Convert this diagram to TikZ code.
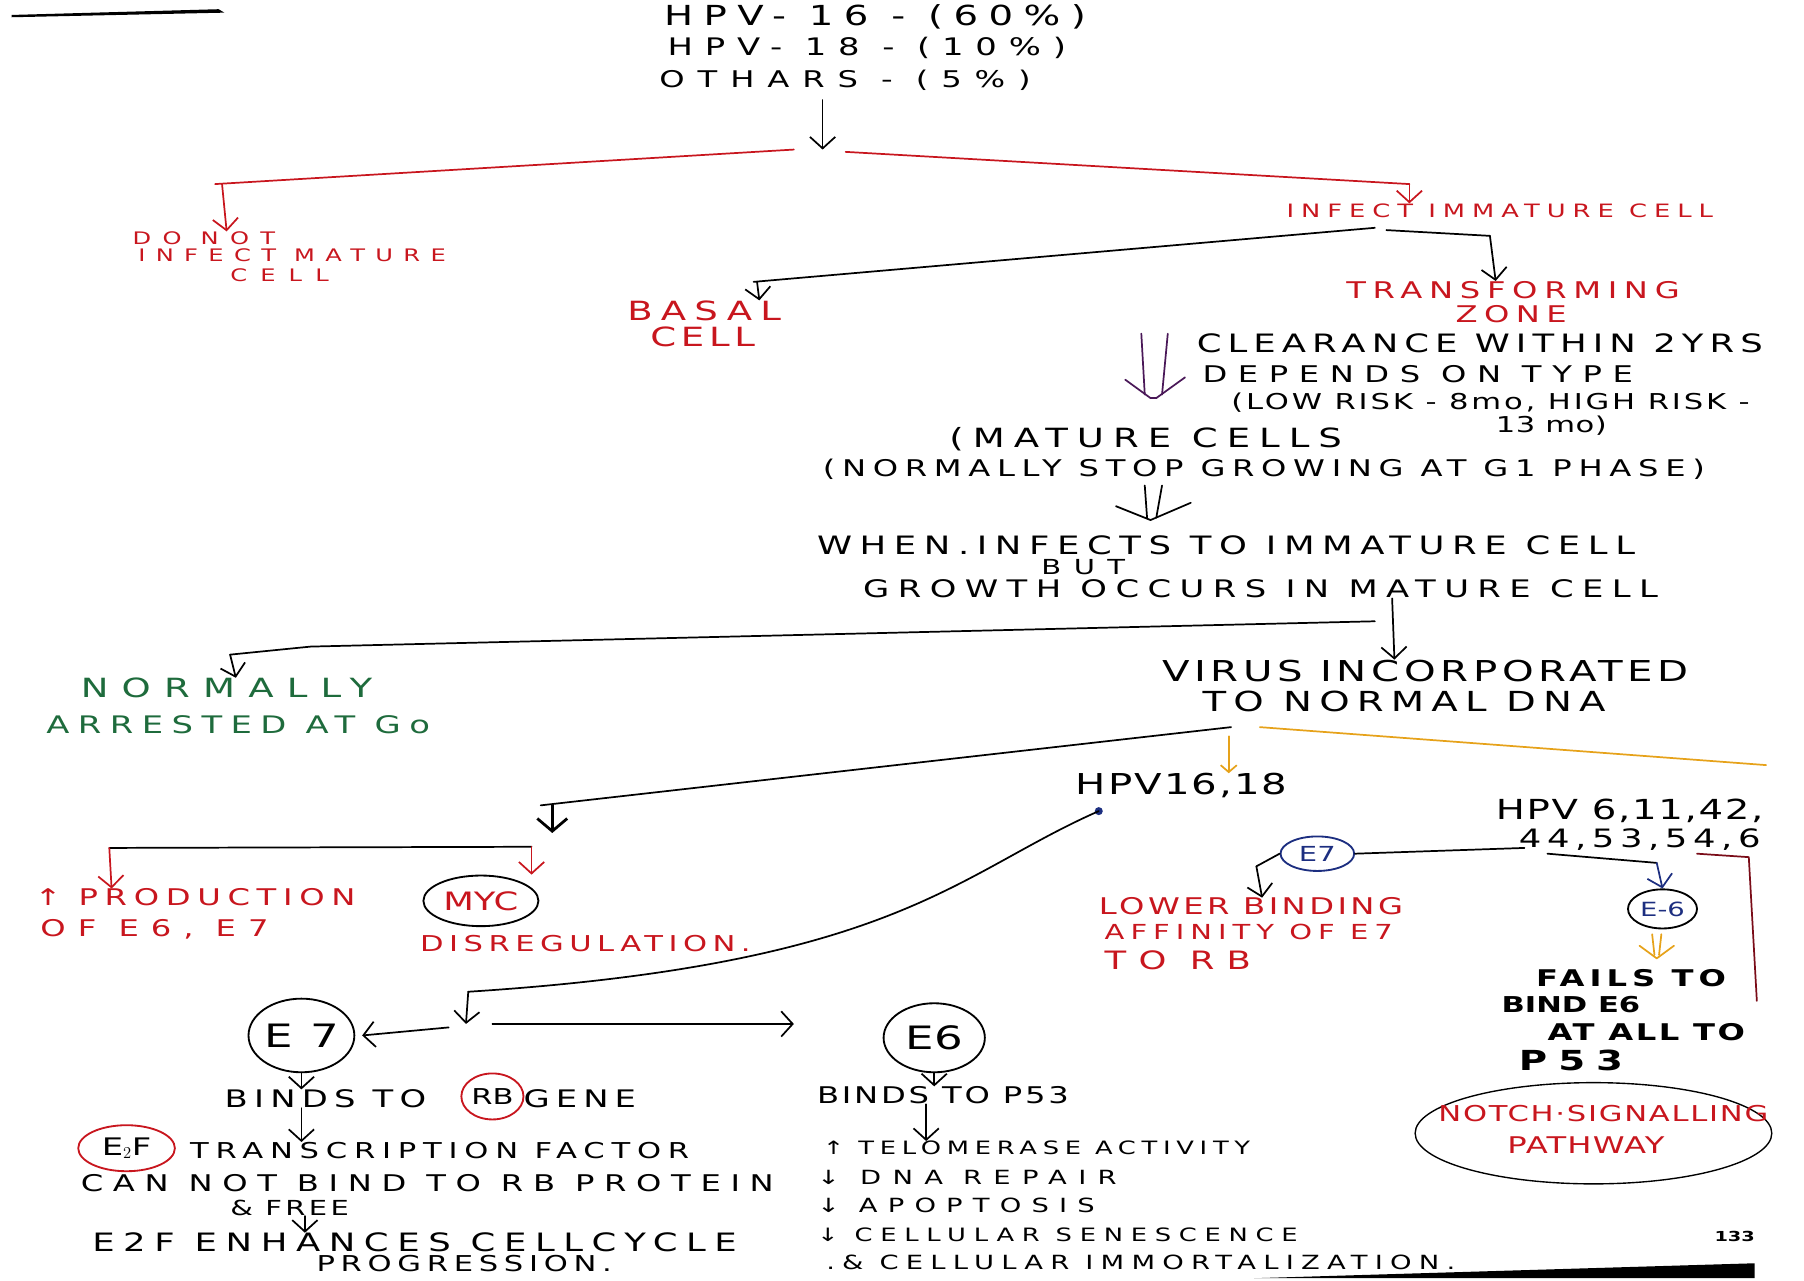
\documentclass[tikz,border=0pt]{standalone}
\usepackage{fontspec}
\setmainfont{DejaVu Sans}
\usetikzlibrary{arrows.meta,shapes.geometric,calc}
\newcommand\hw[2]{\fontsize{#1}{#1}\selectfont\addfontfeature{FakeStretch=1.4,LetterSpace=#2}}
\definecolor{hred}{HTML}{C8161E}
\definecolor{hgreen}{HTML}{1E6B3C}
\definecolor{hyel}{HTML}{E6A21A}
\definecolor{hblue}{HTML}{1C2E80}
\definecolor{hpurp}{HTML}{4A1858}
\definecolor{hdred}{HTML}{7A0C18}
\begin{document}
\begin{tikzpicture}[x=1pt,y=-1pt,
  tx/.style={inner sep=0pt, anchor=west},
  rd/.style={tx,text=hred},
  gr/.style={tx,text=hgreen},
  bd/.style={tx},
  ln/.style={line width=1.5pt, line cap=round, line join=round},
  ar/.style={ln,-{Straight Barb[length=10pt,width=22pt]}},
  circ/.style={ellipse,draw,line width=1.6pt,inner sep=0pt}]
\useasboundingbox (0,0) rectangle (1568,1113);
% scan artefacts
\fill (10,13) -- (190,8) -- (195,11) -- (10,15) -- cycle;
\fill (1090,1111) -- (1525,1098) -- (1525,1111) -- cycle;
% title
\node[tx,font=\hw{24}{38}] (t1) at (577,15) {HPV- 16 - (60\%)};
\node[tx,font=\hw{21}{49}] (t2) at (580,42) {HPV- 18 - (10\%)};
\node[tx,font=\hw{20}{56}] (t3) at (573,70) {OTHARS - (5\%)};
\coordinate (a0) at (715,87);
\coordinate (a1) at (715,130);
\draw[ar] (a0) -- (a1);
% first branch (red)
\node[rd,font=\hw{15}{66}] (dn1) at (115,207) {DO NOT};
\node[rd,font=\hw{15}{60}] (dn2) at (120,222) {INFECT MATURE};
\node[rd,font=\hw{15}{76}] (dn3) at (200,239) {CELL};
\node[rd,font=\hw{16}{38}] (im) at (1118,183) {INFECT IMMATURE CELL};
\coordinate (rl0) at (690,130);
\coordinate (rl) at (187,160);
\coordinate (rr0) at (735,132);
\coordinate (rr) at (1225,160);
\draw[ln,hred] (rl0) -- (rl);
\draw[ar,hred] (rl -| 193,0) -- (dn1.north -| 197,0);
\draw[ln,hred] (rr0) -- (rr);
\draw[ar,hred] (rr) -- (im.north -| rr);
% second branch
\node[rd,font=\hw{23}{31}] (bs1) at (545,270) {BASAL};
\node[rd,font=\hw{23}{18}] (bs2) at (565,293) {CELL};
\node[rd,font=\hw{20}{29}] (tz1) at (1170,252) {TRANSFORMING};
\node[rd,font=\hw{20}{28}] (tz2) at (1265,273) {ZONE};
\coordinate (ib0) at (1195,198);
\coordinate (ib) at (655,245);
\coordinate (it0) at (1205,200);
\coordinate (it) at (1295,205);
\draw[ln] (ib0) -- (ib);
\draw[ar] (ib -| 658,0) -- (bs1.north -| 660,0);
\draw[ln] (it0) -- (it);
\draw[ar] (it) -- (tz1.north -| 1300,0);
% clearance
\node[tx,font=\hw{22}{24}] (cl1) at (1040,298) {CLEARANCE WITHIN 2YRS};
\node[tx,font=\hw{20}{46}] (cl2) at (1045,325) {DEPENDS ON TYPE};
\node[tx,font=\hw{19}{13}] (cl3) at (1070,350) {(LOW RISK - 8mo, HIGH RISK -};
\node[tx,font=\hw{19}{2}] (cl4) at (1300,370) {13 mo)};
\draw[ln,hpurp] (992,290) -- (995,343) (1015,290) -- (1010,343);
\draw[ln,hpurp] (978,330) -- (1000,346) -- (1005,346) -- (1030,328);
% mature cells
\node[tx,font=\hw{23}{34}] (mc1) at (825,382) {(MATURE CELLS};
\node[tx,font=\hw{20}{29}] (mc2) at (715,408) {(NORMALLY STOP GROWING AT G1 PHASE)};
\draw[ln] (995,422) -- (997,450) (1010,422) -- (1005,450);
\draw[ln] (970,440) -- (1000,452) -- (1035,437);
\node[tx,font=\hw{22}{30}] (w1) at (710,474) {WHEN.INFECTS TO IMMATURE CELL};
\node[tx,font=\hw{18}{60}] (w2) at (905,493) {BUT};
\node[tx,font=\hw{21}{35}] (w3) at (750,512) {GROWTH OCCURS IN MATURE CELL};
% third branch
\node[gr,font=\hw{23}{50}] (n1) at (70,598) {NORMALLY};
\node[gr,font=\hw{21}{35}] (n2) at (40,630) {ARRESTED AT Go};
\node[tx,font=\hw{25}{16}] (v1) at (1010,583) {VIRUS INCORPORATED};
\node[tx,font=\hw{24}{26}] (v2) at (1045,610) {TO NORMAL DNA};
\coordinate (g0) at (1195,540);
\coordinate (g1) at (270,562);
\coordinate (g2) at (200,569);
\draw[ln] (g0) -- (g1) -- (g2);
\draw[ar] (g2) -- (n1.north -| 205,0);
\draw[ar] (w3.south -| 1210,0) -- (v1.north -| 1212,0);
% HPV types
\node[tx,font=\hw{25}{7}] (h16) at (935,683) {HPV16,18};
\node[tx,font=\hw{24}{6}] (h6a) at (1300,705) {HPV 6,11,42,};
\node[tx,font=\hw{22}{22}] (h6b) at (1320,730) {44,53,54,6};
\coordinate (d0) at (1070,632);
\coordinate (d1) at (470,700);
\coordinate (d2) at (1095,632);
\coordinate (d3) at (1535,665);
\draw[ln] (d0) -- (d1);
\draw[ln,hyel] (d2) -- (d3);
\draw[ln,hyel,-{Straight Barb[length=6pt,width=14pt]}] (1068,640) -- (h16.north -| 1068,0);
\coordinate (bj) at (480,724);
\draw[line width=2.4pt,line cap=round,-{Straight Barb[length=11pt,width=26pt]}] (d1 -| bj) -- (bj);
% MYC / production (red)
\node[rd,font=\hw{20}{29}] (p1) at (30,780) {↑ PRODUCTION};
\node[rd,font=\hw{20}{52}] (p2) at (35,808) {OF E6, E7};
\node[circ,text=hred,minimum width=100,minimum height=44,font=\hw{22}{0}] (myc) at (418,783) {MYC};
\node[rd,font=\hw{19}{25}] (dis) at (365,820) {DISREGULATION.};
\coordinate (pj) at (462,736);
\coordinate (pl) at (95,737);
\draw[ln] (pj) -- (pl);
\draw[ar,hred] (pl) -- (p1.north -| 97,0);
\draw[ar,hred] (pj) -- (myc.north -| 462,0);
% low risk branch
\node[circ,draw=hblue,text=hblue,minimum width=64,minimum height=30,font=\hw{18}{0}] (e7s) at (1145,742) {E7};
\node[circ,text=hblue,minimum width=60,minimum height=34,font=\hw{17}{0}] (e6s) at (1445,790) {E-6};
\node[rd,font=\hw{20}{15}] (lb1) at (955,788) {LOWER BINDING};
\node[rd,font=\hw{18}{29}] (lb2) at (960,810) {AFFINITY OF E7};
\node[rd,font=\hw{22}{48}] (lb3) at (960,835) {TO RB};
\coordinate (l0) at (1325,737);
\coordinate (l1) at (1092,753);
\draw[ln] (l0) -- (e7s.east) (e7s.west) -- (l1);
\draw[ar] (l1) -- (lb1.north -| 1097,0);
\coordinate (r0) at (1345,742);
\coordinate (r1) at (1440,750);
\draw[ln] (r0) -- (r1);
\draw[ar,hblue] (r1) -- (e6s.north);
\draw[ln,hyel] (1436,812) -- (1438,830) (1444,812) -- (1442,830);
\draw[ln,hyel] (1425,822) -- (1440,833) -- (1455,822);
\node[bd,font=\bfseries\hw{20}{22}] (f1) at (1335,850) {FAILS TO};
\node[bd,font=\bfseries\hw{19}{0}] (f2) at (1305,873) {BIND E6};
\node[bd,font=\bfseries\hw{20}{11}] (f3) at (1345,897) {AT ALL TO};
\node[bd,font=\bfseries\hw{24}{40}] (f4) at (1320,922) {P53};
\draw[ln,hdred] (1475,742) -- (1520,745) -- (1527,870);
\node[ellipse,draw,line width=1.2pt,minimum width=310,minimum height=88] (notch) at (1385,985) {};
\node[rd,font=\hw{19}{8}] (nt1) at (1250,968) {NOTCH·SIGNALLING};
\node[rd,font=\hw{20}{5}] (nt2) at (1310,995) {PATHWAY};
% curve to E7/E6
\coordinate (cj) at (407,862);
\coordinate (cm) at (405,890);
\fill[hblue] (955,705) circle (3.5);
\draw[ln] (955,705) .. controls (830,760) and (780,838) .. (cj);
\draw[ar] (cj) -- (cm);
\node[circ,minimum width=92,minimum height=64,font=\hw{28}{10}] (E7) at (262,900) {E 7};
\node[circ,minimum width=88,minimum height=60,font=\hw{28}{0}] (E6) at (812,902) {E6};
\coordinate (rt) at (690,890);
\draw[ar] (390,893) -- ([xshift=6pt]E7.east);
\draw[ar] (428,890) -- (rt);
% E7 column
\node[tx,font=\hw{21}{26}] (b1) at (195,955) {BINDS TO};
\node[circ,draw=hred,minimum width=54,minimum height=40,font=\hw{19}{0}] (rb) at (428,953) {RB};
\node[tx,font=\hw{21}{25}] (b2) at (455,955) {GENE};
\node[circ,draw=hred,minimum width=84,minimum height=40,font=\hw{21}{0}] (e2f) at (110,998) {E$_2$F};
\node[tx,font=\hw{19}{31}] (tf) at (165,1000) {TRANSCRIPTION FACTOR};
\node[tx,font=\hw{20}{42}] (cn) at (70,1028) {CAN NOT BIND TO RB PROTEIN};
\node[tx,font=\hw{18}{16}] (fr) at (200,1050) {\& FREE};
\node[tx,font=\hw{22}{34}] (en) at (80,1080) {E2F ENHANCES CELLCYCLE};
\node[tx,font=\hw{19}{26}] (pg) at (275,1098) {PROGRESSION.};
\draw[ar] (E7.south) -- (b1.north -| E7.south);
\draw[ar] (b1.south -| 262,0) -- (tf.north -| 262,0);
\draw[ar] (fr.south -| 265,0) -- (en.north -| 265,0);
% E6 column
\node[tx,font=\hw{20}{12}] (bp) at (710,952) {BINDS TO P53};
\node[tx,font=\hw{16}{31}] (ta) at (715,998) {↑ TELOMERASE ACTIVITY};
\node[tx,font=\hw{17}{58}] (dr) at (710,1023) {↓ DNA REPAIR};
\node[tx,font=\hw{17}{52}] (ap) at (710,1048) {↓ APOPTOSIS};
\node[tx,font=\hw{16}{42}] (cs) at (710,1073) {↓ CELLULAR SENESCENCE};
\node[tx,font=\hw{17}{37}] (ci) at (718,1097) {.\& CELLULAR IMMORTALIZATION.};
\node[tx,font=\bfseries\hw{12}{0}] (pn) at (1490,1075) {133};
\draw[ar] (E6.south) -- (bp.north -| E6.south);
\draw[ar] (bp.south -| 805,0) -- (ta.north -| 805,0);
\end{tikzpicture}
\end{document}
